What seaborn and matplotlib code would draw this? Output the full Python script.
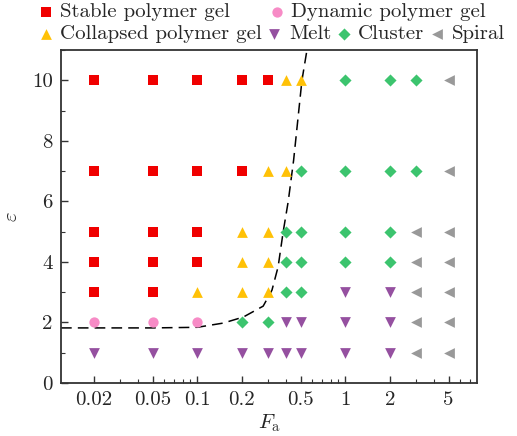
import numpy as np
import pandas as pd
import matplotlib
matplotlib.use("Agg")
import matplotlib.pyplot as plt
import matplotlib.ticker as mticker
import seaborn as sns

# ---------------- data ----------------
phases = ["Stable polymer gel", "Dynamic polymer gel", "Collapsed polymer gel",
          "Melt", "Cluster", "Spiral"]
stable_F = [0.02, 0.05, 0.1, 0.2, 0.3,
            0.02, 0.05, 0.1, 0.2,
            0.02, 0.05, 0.1,
            0.02, 0.05, 0.1,
            0.02, 0.05]
stable_e = [10, 10, 10, 10, 10,
            7, 7, 7, 7,
            5, 5, 5,
            4, 4, 4,
            3, 3]
dynamic_F = [0.02, 0.05, 0.1]
dynamic_e = [2, 2, 2]
collapsed_F = [0.4, 0.5, 0.3, 0.4, 0.2, 0.3, 0.2, 0.3, 0.1, 0.2, 0.3]
collapsed_e = [10, 10, 7, 7, 5, 5, 4, 4, 3, 3, 3]
melt_F = [1, 2, 0.4, 0.5, 1, 2,
          0.02, 0.05, 0.1, 0.2, 0.3, 0.4, 0.5, 1, 2]
melt_e = [3, 3, 2, 2, 2, 2,
          1, 1, 1, 1, 1, 1, 1, 1, 1]
cluster_F = [1, 2, 3, 0.5, 1, 2, 3, 0.4, 0.5, 1, 2, 0.4, 0.5, 1, 2, 0.4, 0.5, 0.2, 0.3]
cluster_e = [10, 10, 10, 7, 7, 7, 7, 5, 5, 5, 5, 4, 4, 4, 4, 3, 3, 2, 2]
spiral_F = [5, 5, 3, 5, 3, 5, 3, 5, 3, 5, 3, 5]
spiral_e = [10, 7, 5, 5, 4, 4, 3, 3, 2, 2, 1, 1]

# phase boundary (guide to the eye)
bound_F = [0.012, 0.05, 0.1, 0.15, 0.205, 0.279, 0.32, 0.352, 0.381, 0.412, 0.448, 0.51, 0.56]
bound_e = [1.82, 1.82, 1.84, 1.98, 2.18, 2.54, 3.07, 3.84, 5.0, 6.0, 7.36, 10.0, 11.2]

xtick_vals = [0.02, 0.05, 0.1, 0.2, 0.5, 1, 2, 5]
xtick_labels = ["0.02", "0.05", "0.1", "0.2", "0.5", "1", "2", "5"]
ytick_vals = [0, 2, 4, 6, 8, 10]
ytick_labels = ["0", "2", "4", "6", "8", "10"]

colors = {"Stable polymer gel": "#F00000", "Dynamic polymer gel": "#F78BC6",
          "Collapsed polymer gel": "#FFC107", "Melt": "#9550A0",
          "Cluster": "#3CC46E", "Spiral": "#999999"}
markers = {"Stable polymer gel": "s", "Dynamic polymer gel": "o",
           "Collapsed polymer gel": "^", "Melt": "v", "Cluster": "D", "Spiral": "<"}
sizes = {"Stable polymer gel": 45, "Dynamic polymer gel": 55,
         "Collapsed polymer gel": 60, "Melt": 60, "Cluster": 38, "Spiral": 60}

data = {"Stable polymer gel": (stable_F, stable_e),
        "Dynamic polymer gel": (dynamic_F, dynamic_e),
        "Collapsed polymer gel": (collapsed_F, collapsed_e),
        "Melt": (melt_F, melt_e),
        "Cluster": (cluster_F, cluster_e),
        "Spiral": (spiral_F, spiral_e)}

# ---------------- style ----------------
sns.set_theme(style="white")
plt.rcParams["font.family"] = ["cmr10", "DejaVu Serif"]
plt.rcParams["mathtext.fontset"] = "cm"
plt.rcParams["axes.formatter.use_mathtext"] = True

fig = plt.figure(figsize=(5.17, 4.36), dpi=100)
ax = fig.add_axes([0.118, 0.1216, 0.805, 0.7634])

bdf = pd.DataFrame({"F": bound_F, "e": bound_e})
ax.plot(bdf["F"], bdf["e"], color="black", lw=1.1, ls=(0, (7, 4)), zorder=1)

for ph in phases:
    F, e = data[ph]
    df = pd.DataFrame({"F": F, "e": e})
    sns.scatterplot(data=df, x="F", y="e", ax=ax, marker=markers[ph],
                    color=colors[ph], s=sizes[ph], linewidth=0, label=ph,
                    zorder=3, legend=True)

ax.set_xscale("log")
ax.set_xlim(0.012, 7.8)
ax.set_ylim(0, 11)

ax.xaxis.set_major_locator(mticker.FixedLocator(xtick_vals))
ax.xaxis.set_major_formatter(mticker.FixedFormatter(xtick_labels))
minor = [m * 10.0 ** k for k in range(-2, 1) for m in range(1, 10)]
minor = [v for v in minor if v not in xtick_vals and 0.012 < v < 7.8]
ax.xaxis.set_minor_locator(mticker.FixedLocator(minor))
ax.xaxis.set_minor_formatter(mticker.NullFormatter())
ax.yaxis.set_major_locator(mticker.FixedLocator(ytick_vals))
ax.yaxis.set_major_formatter(mticker.FixedFormatter(ytick_labels))
ax.yaxis.set_minor_locator(mticker.MultipleLocator(1))

ax.tick_params(axis="both", which="major", direction="in", length=5, width=1,
               labelsize=15, color="#333333", pad=6, left=True, bottom=True)
ax.tick_params(axis="both", which="minor", direction="in", length=3, width=0.8,
               color="#333333", left=True, bottom=True)
for sp in ax.spines.values():
    sp.set_color("#333333")
    sp.set_linewidth(1.3)

ax.set_xlabel(r"$F_{\rm a}$", fontsize=15, labelpad=2)
ax.set_ylabel(r"$\varepsilon$", fontsize=15)
ax.yaxis.set_label_coords(-0.095, 0.5)

handles, labels = ax.get_legend_handles_labels()
if ax.get_legend() is not None:
    ax.get_legend().remove()
hmap = dict(zip(labels, handles))

leg1 = fig.legend([hmap[p] for p in phases[:2]], phases[:2], ncol=2,
                  loc="center left", bbox_to_anchor=(0.072, 0.972), frameon=False,
                  fontsize=15, handletextpad=0.3, columnspacing=1.85,
                  handlelength=0.8, borderaxespad=0, borderpad=0)
leg2 = fig.legend([hmap[p] for p in phases[2:]], phases[2:], ncol=4,
                  loc="center left", bbox_to_anchor=(0.072, 0.922), frameon=False,
                  fontsize=15, handletextpad=0.3, columnspacing=0.2,
                  handlelength=0.8, borderaxespad=0, borderpad=0)

fig.savefig("out.png", dpi=100)
